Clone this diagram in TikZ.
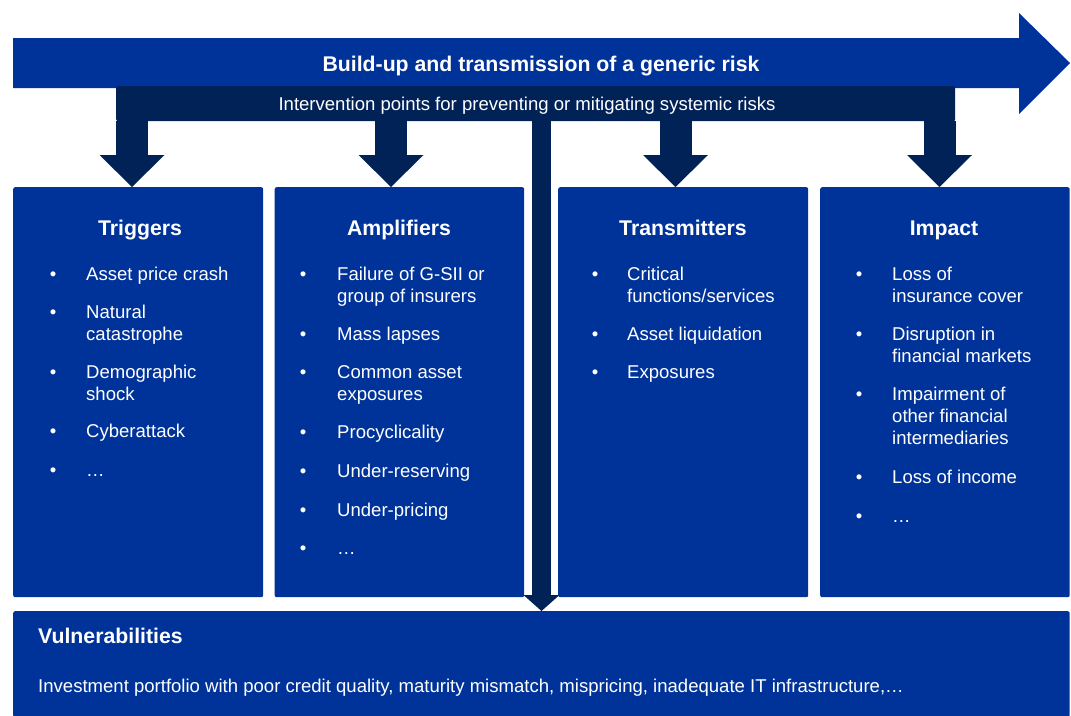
\documentclass[tikz,border=0pt]{standalone}
\usepackage{fontspec}
\setmainfont{Liberation Sans}
\usetikzlibrary{arrows.meta}
\definecolor{eblue}{RGB}{0,51,153}
\definecolor{enavy}{RGB}{0,34,87}
\newcommand{\ml}[1]{\begin{tabular}[t]{@{}l@{}}#1\end{tabular}}
\newcommand{\bitem}[5]{%
  \node[bul] (#1b) at (#2,#4) {\textbullet};
  \node[itemtext] (#1) at (#3,#4) {#5};}
\begin{document}
\begin{tikzpicture}[x=1pt,y=-1pt,
  panel/.style={fill=eblue, rounded corners=2pt, inner sep=0pt, anchor=north west},
  itemtext/.style={anchor=base west, inner sep=0pt, text=white, font=\fontsize{18.55}{22}\selectfont},
  bul/.style={anchor=base, inner sep=0pt, text=white, font=\fontsize{18.55}{22}\selectfont},
  headtext/.style={anchor=base, inner sep=0pt, text=white, font=\fontsize{21.25}{25}\selectfont\bfseries},
  darr/.style={draw=enavy, line width=32pt, -{Triangle[width=65pt,length=32pt,line width=0pt]}},
  carr/.style={draw=enavy, line width=19pt, -{Triangle[width=36pt,length=16pt,line width=0pt]}},
]
\useasboundingbox (0,0) rectangle (1071,715);

% main arrow
\fill[eblue] (13,38) -- (1019,38) -- (1019,13) -- (1070,63) -- (1019,114) -- (1019,88) -- (13,88) -- cycle;
\node[headtext] (title) at (541,71) {Build-up and transmission of a generic risk};

% intervention bar
\node[fill=enavy, rounded corners=2pt, minimum width=839pt, minimum height=35pt, inner sep=0pt, anchor=north west] (bar) at (116,86) {};
\node[itemtext, anchor=base] (interv) at (527,110) {Intervention points for preventing or mitigating systemic risks};

% panels
\node[panel, minimum width=250pt, minimum height=410pt] (trig) at (13,187) {};
\node[panel, minimum width=249.5pt, minimum height=410pt] (ampl) at (274.5,187) {};
\node[panel, minimum width=250pt, minimum height=410pt] (trans) at (558,187) {};
\node[panel, minimum width=249.5pt, minimum height=410pt] (imp) at (820,187) {};
\node[panel, minimum width=1056.5pt, minimum height=106pt] (vul) at (13,611) {};

% arrow positions
\coordinate (c1) at (132,0);
\coordinate (c2) at (391,0);
\coordinate (c3) at (675.5,0);
\coordinate (c4) at (939.5,0);
\coordinate (c0) at (541.5,0);

\draw[darr] (bar.south -| c1) -- (trig.north -| c1);
\draw[darr] (bar.south -| c2) -- (ampl.north -| c2);
\draw[darr] (bar.south -| c3) -- (trans.north -| c3);
\draw[darr] (bar.south -| c4) -- (imp.north -| c4);
\draw[carr] (bar.south -| c0) -- (vul.north -| c0);

% headings
\node[headtext] (h1) at (140,235) {Triggers};
\node[headtext] (h2) at (399,235) {Amplifiers};
\node[headtext] (h3) at (683,235) {Transmitters};
\node[headtext] (h4) at (944,235) {Impact};

% Triggers
\bitem{t1}{53}{86}{280}{Asset price crash}
\bitem{t2}{53}{86}{318}{\ml{Natural\\catastrophe}}
\bitem{t3}{53}{86}{378}{\ml{Demographic\\shock}}
\bitem{t4}{53}{86}{437}{Cyberattack}
\bitem{t5}{53}{86}{476}{…}

% Amplifiers
\bitem{a1}{303}{337}{280}{\ml{Failure of G-SII or\\group of insurers}}
\bitem{a2}{303}{337}{340}{Mass lapses}
\bitem{a3}{303}{337}{378}{\ml{Common asset\\exposures}}
\bitem{a4}{303}{337}{438}{Procyclicality}
\bitem{a5}{303}{337}{477}{Under-reserving}
\bitem{a6}{303}{337}{516}{Under-pricing}
\bitem{a7}{303}{337}{554}{…}

% Transmitters
\bitem{r1}{595}{627}{280}{\ml{Critical\\functions/services}}
\bitem{r2}{595}{627}{340}{Asset liquidation}
\bitem{r3}{595}{627}{378}{Exposures}

% Impact
\bitem{i1}{859}{892}{280}{\ml{Loss of\\insurance cover}}
\bitem{i2}{859}{892}{340}{\ml{Disruption in\\financial markets}}
\bitem{i3}{859}{892}{400}{\ml{Impairment of\\other financial\\intermediaries}}
\bitem{i4}{859}{892}{483}{Loss of income}
\bitem{i5}{859}{892}{522}{…}

% Vulnerabilities
\node[headtext, anchor=base west] (vh) at (38,643) {Vulnerabilities};
\node[itemtext] (vt) at (38,692) {Investment portfolio with poor credit quality, maturity mismatch, mispricing, inadequate IT infrastructure,…};
\end{tikzpicture}
\end{document}
